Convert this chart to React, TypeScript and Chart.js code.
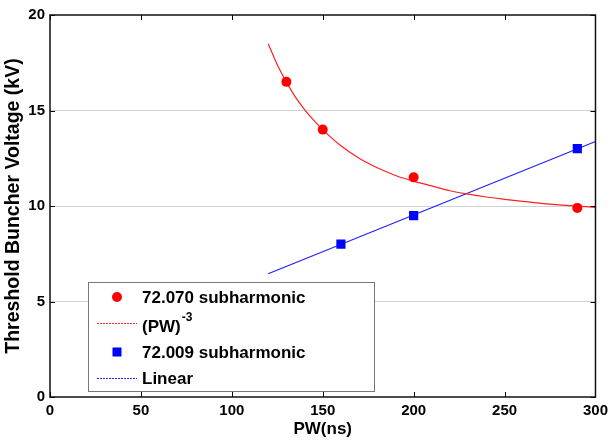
import React, { useEffect, useRef } from "react";
import { Chart, registerables } from "chart.js";

Chart.register(...registerables);

// ---- data ----
const redX = [130, 150, 200, 290];
const redY = [16.5, 14.0, 11.5, 9.9];
const fitX = [120, 125, 130, 135, 140, 145, 150, 160, 170, 180, 190, 200, 210, 220, 230, 240, 250, 260, 270, 280, 290, 300];
const fitY = [18.5, 17.4, 16.5, 15.7, 15.05, 14.5, 14.0, 13.15, 12.5, 12.0, 11.6, 11.3, 11.05, 10.8, 10.62, 10.47, 10.35, 10.24, 10.14, 10.06, 9.99, 9.93];
const blueX = [160, 200, 290];
const blueY = [8.0, 9.5, 13.0];
const linX = [120, 300];
const linY = [6.45, 13.38];
const xTicks = [0, 50, 100, 150, 200, 250, 300];
const yTicks = [0, 5, 10, 15, 20];
const legendLabels = ["72.070 subharmonic", "(PW)", "72.009 subharmonic", "Linear"];
const legendSup = ["", "-3", "", ""];
const xTitle = "PW(ns)";
const yTitle = "Threshold Buncher Voltage (kV)";

const FONT = "'Liberation Sans', Arial, Helvetica, sans-serif";

const pts = (xs: number[], ys: number[]) => xs.map((x, i) => ({ x, y: ys[i] }));

const framePlugin = {
  id: "frame",
  afterDatasetsDraw(chart: any) {
    const { ctx, chartArea: a, scales } = chart;
    ctx.save();
    ctx.strokeStyle = "#000";
    ctx.lineWidth = 1;
    ctx.beginPath();
    xTicks.forEach((v) => {
      const px = Math.round(scales.x.getPixelForValue(v)) + 0.5;
      ctx.moveTo(px, a.bottom);
      ctx.lineTo(px, a.bottom - 5);
      ctx.moveTo(px, a.top);
      ctx.lineTo(px, a.top + 5);
    });
    yTicks.forEach((v) => {
      const py = Math.round(scales.y.getPixelForValue(v)) + 0.5;
      ctx.moveTo(a.left, py);
      ctx.lineTo(a.left + 5, py);
      ctx.moveTo(a.right, py);
      ctx.lineTo(a.right - 5, py);
    });
    ctx.stroke();
    ctx.lineWidth = 1.5;
    ctx.strokeStyle = "#111";
    ctx.strokeRect(a.left, a.top, a.right - a.left, a.bottom - a.top);
    ctx.restore();
  },
  afterDraw(chart: any) {
    const ctx: CanvasRenderingContext2D = chart.ctx;
    const bx = 88, by = 282, bw = 286, bh = 109;
    ctx.save();
    ctx.setLineDash([]);
    ctx.fillStyle = "#fff";
    ctx.fillRect(bx, by, bw, bh);
    ctx.strokeStyle = "#777";
    ctx.lineWidth = 1;
    ctx.strokeRect(bx + 0.5, by + 0.5, bw, bh);
    const rows = [297, 323, 352, 378];
    const mx = 117;
    ctx.fillStyle = "#ff0000";
    ctx.beginPath();
    ctx.arc(mx, rows[0], 5, 0, Math.PI * 2);
    ctx.fill();
    const drawSample = (y: number, color: string) => {
      ctx.save();
      ctx.strokeStyle = color;
      ctx.lineWidth = 1.2;
      ctx.setLineDash([2, 1]);
      ctx.beginPath();
      ctx.moveTo(97, y + 0.5);
      ctx.lineTo(137, y + 0.5);
      ctx.stroke();
      ctx.restore();
    };
    drawSample(rows[1], "rgb(255,40,40)");
    ctx.fillStyle = "#0000ff";
    ctx.fillRect(mx - 4.5, rows[2] - 4.5, 9, 9);
    drawSample(rows[3], "rgb(40,40,255)");
    ctx.fillStyle = "#000";
    ctx.textBaseline = "middle";
    ctx.textAlign = "left";
    legendLabels.forEach((t, i) => {
      ctx.font = `bold 17px ${FONT}`;
      const ty = i === 1 ? rows[i] + 4 : rows[i] + 1;
      ctx.fillText(t, 142, ty);
      if (legendSup[i]) {
        const w = ctx.measureText(t).width;
        ctx.font = `bold 12px ${FONT}`;
        ctx.fillText(legendSup[i], 142 + w + 1, ty - 9);
      }
    });
    ctx.restore();
  },
};

export default function App() {
  const ref = useRef<HTMLCanvasElement | null>(null);
  useEffect(() => {
    document.body.style.margin = "0";
    const canvas = ref.current;
    if (!canvas) return;
    const chart = new Chart(canvas, {
      type: "scatter",
      data: {
        datasets: [
          {
            label: legendLabels[0],
            data: pts(redX, redY),
            showLine: false,
            pointStyle: "circle",
            pointRadius: 5,
            pointBackgroundColor: "#ff0000",
            pointBorderWidth: 0,
            borderColor: "#ff0000",
          },
          {
            label: legendLabels[2],
            data: pts(blueX, blueY),
            showLine: false,
            pointStyle: "rect",
            pointRadius: 6.5,
            pointBackgroundColor: "#0000ff",
            pointBorderWidth: 0,
            borderColor: "#0000ff",
          },
          {
            label: legendLabels[1],
            data: pts(fitX, fitY),
            showLine: true,
            pointRadius: 0,
            borderColor: "#ff2020",
            borderWidth: 1.2,
            cubicInterpolationMode: "monotone",
          },
          {
            label: legendLabels[3],
            data: pts(linX, linY),
            showLine: true,
            pointRadius: 0,
            borderColor: "#2020ff",
            borderWidth: 1.2,
          },
        ],
      },
      options: {
        animation: false,
        responsive: false,
        events: [],
        layout: { padding: { top: 15, right: 14, left: 0, bottom: 0 } },
        plugins: { legend: { display: false }, tooltip: { enabled: false } },
        scales: {
          x: {
            type: "linear",
            min: 0,
            max: 300,
            afterBuildTicks: (s: any) => {
              s.ticks = xTicks.map((v) => ({ value: v }));
            },
            afterFit: (s: any) => {
              s.height = 44;
            },
            grid: { display: false, drawTicks: false },
            border: { display: false },
            ticks: { color: "#000", padding: 5, font: { family: FONT, size: 15, weight: "bold" }, maxRotation: 0 },
            title: {
              display: true,
              text: xTitle,
              color: "#000",
              padding: { top: 0, bottom: 1 },
              font: { family: FONT, size: 17, weight: "bold", lineHeight: 1.2 },
            },
          },
          y: {
            type: "linear",
            min: 0,
            max: 20,
            afterBuildTicks: (s: any) => {
              s.ticks = yTicks.map((v) => ({ value: v }));
            },
            afterFit: (s: any) => {
              s.width = 50;
            },
            grid: {
              drawTicks: false,
              lineWidth: 1,
              color: (c: any) => (c.tick && c.tick.value > 0 && c.tick.value < 20 ? "#d2d2d2" : "rgba(0,0,0,0)"),
            },
            border: { display: false },
            ticks: { color: "#000", padding: 5, font: { family: FONT, size: 15, weight: "bold" } },
            title: {
              display: true,
              text: yTitle,
              color: "#000",
              padding: { top: 2, bottom: 0 },
              font: { family: FONT, size: 19.5, weight: "bold", lineHeight: 1.2 },
            },
          },
        },
      },
      plugins: [framePlugin],
    } as any);
    return () => chart.destroy();
  }, []);
  return (
    <div style={{ width: 613, height: 441, background: "#fff" }}>
      <canvas ref={ref} width={613} height={441} style={{ display: "block" }} />
    </div>
  );
}
